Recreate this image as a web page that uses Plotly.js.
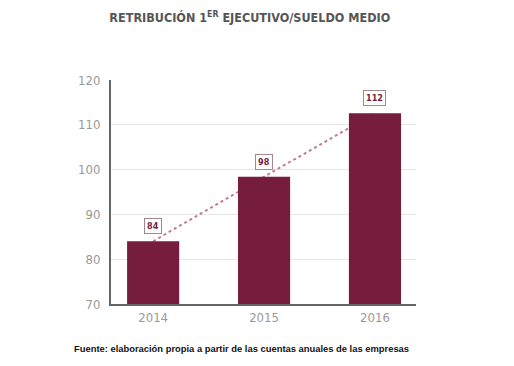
<!DOCTYPE html>
<html>
<head>
<meta charset="utf-8">
<script src="https://cdn.plot.ly/plotly-3.0.1.min.js"></script>
<style>html,body{margin:0;padding:0;background:#fff;}#chart{width:514px;height:366px;}</style>
</head>
<body>
<div id="chart"></div>
<script>
var years = ["2014", "2015", "2016"];
var ratio = [84, 98.4, 112.6];
var ratioLabels = ["84", "98", "112"];
var yTicks = [70, 80, 90, 100, 110, 120];

var barColor = "#761d3f";
var fontFam = "DejaVu Sans Condensed, DejaVu Sans";
// dotted trend line on the base subplot (drawn underneath)
var lineTrace = {
  type: "scatter", mode: "lines", x: years, y: ratio, xaxis: "x", yaxis: "y",
  line: {color: "#c47a98", width: 2, dash: "dot"},
  hoverinfo: "skip", showlegend: false
};
// bars on the overlaying subplot (drawn on top of the line)
var barTrace = {
  type: "bar", x: years, y: ratio, width: 0.47, xaxis: "x2", yaxis: "y2",
  marker: {color: barColor}, showlegend: false, hoverinfo: "skip"
};
var annotations = years.map(function (yr, i) {
  return {
    x: i, y: ratio[i], xref: "x2", yref: "y2", text: "<b>" + ratioLabels[i] + "</b>",
    showarrow: false, yanchor: "bottom", yshift: 7,
    font: {family: fontFam, size: 9, color: barColor},
    bgcolor: "#ffffff", bordercolor: "#a08890", borderwidth: 1, borderpad: 2
  };
});
annotations.push({
  xref: "paper", yref: "paper", x: -0.128, y: -0.2, xanchor: "left", yanchor: "middle",
  showarrow: false, align: "left",
  text: "<b>Fuente: elaboración propia a partir de las cuentas anuales de las empresas</b>",
  font: {family: "Liberation Sans, Arial", size: 9.4, color: "#111"}
});
var xRange = [-0.38, 2.37];
var yRange = [70, 120];
var layout = {
  width: 514, height: 366,
  margin: {l: 111, r: 98, t: 80, b: 62},
  paper_bgcolor: "#fff", plot_bgcolor: "#fff",
  title: {
    text: "<b>RETRIBUCIÓN 1<sup>ER</sup> EJECUTIVO/SUELDO MEDIO</b>",
    x: 0.486, xanchor: "center", y: 0.952, yanchor: "middle",
    font: {family: fontFam, size: 12.5, color: "#555"}
  },
  xaxis: {
    type: "category", range: xRange, showgrid: false,
    showline: true, linecolor: "#666", linewidth: 2,
    ticks: "", tickfont: {family: fontFam, size: 13, color: "#999"}
  },
  yaxis: {
    range: yRange, tickvals: yTicks, showgrid: true, gridcolor: "#e6e6e6", gridwidth: 1,
    showline: true, linecolor: "#666", linewidth: 2, zeroline: false,
    ticks: "", ticklabelstandoff: 6,
    tickfont: {family: fontFam, size: 13, color: "#999"}
  },
  xaxis2: {
    type: "category", range: xRange, overlaying: "x", showgrid: false, showline: false,
    showticklabels: false, ticks: ""
  },
  yaxis2: {
    range: yRange, overlaying: "y", showgrid: false, showline: false, zeroline: false,
    showticklabels: false, ticks: ""
  },
  annotations: annotations
};
Plotly.newPlot("chart", [lineTrace, barTrace], layout, {displayModeBar: false, staticPlot: true});
</script>
</body>
</html>
